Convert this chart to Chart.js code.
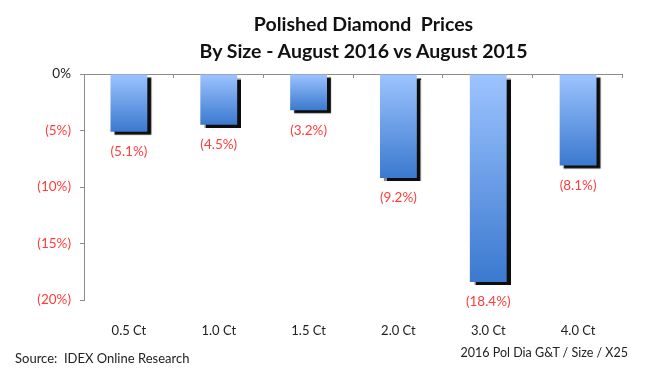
<!DOCTYPE html>
<html>
<head>
<meta charset="utf-8">
<script src="https://cdn.jsdelivr.net/npm/chart.js@4/dist/chart.umd.min.js"></script>
<style>
  body { margin: 0; background: #fff; }
  #wrap { position: relative; width: 645px; height: 372px; overflow: hidden; }
  #myChart { position: absolute; left: 0; top: 0; }
  .title { position: absolute; left: 0; width: 727px; text-align: center; font: bold 19.5px Lato, sans-serif; color: #111; }
  .foot { position: absolute; font: 13px Lato, sans-serif; color: #222; white-space: nowrap; }
</style>
</head>
<body>
<div id="wrap">
  <canvas id="myChart" width="645" height="372"></canvas>
  <div class="title" style="top:12px">Polished Diamond&nbsp; Prices</div>
  <div class="title" style="top:39px">By Size - August 2016 vs August 2015</div>
  <div class="foot" style="left:15px; top:350px">Source:&nbsp; IDEX Online Research</div>
  <div class="foot" style="right:17px; top:345px; font-size:12.5px">2016 Pol Dia G&amp;T / Size / X25</div>
</div>
<script>
const sizes = ['0.5 Ct', '1.0 Ct', '1.5 Ct', '2.0 Ct', '3.0 Ct', '4.0 Ct'];
const priceChange = [-5.1, -4.5, -3.2, -9.2, -18.4, -8.1];

const RED = '#ff3d3d';
const AXIS = '#8c8c8c';

function pct(v) {
    return v === 0 ? '0%' : '(' + Math.abs(v) + '%)';
}

// shadow under bars + red value labels + little ticks on the zero line
const barExtras = {
    id: 'barExtras',
    beforeDatasetsDraw(chart) {
        var c = chart.ctx;
        c.save();
        c.shadowColor = 'rgba(0,0,0,0.95)';
        c.shadowOffsetX = 4;
        c.shadowOffsetY = 3;
        c.shadowBlur = 1;
    },
    afterDatasetsDraw(chart) {
        var c = chart.ctx;
        c.restore();
        c.save();
        c.font = '13.5px Lato, sans-serif';
        c.fillStyle = RED;
        c.textAlign = 'center';
        c.textBaseline = 'middle';
        chart.getDatasetMeta(0).data.forEach((bar, i) => {
            c.fillText(pct(priceChange[i]), bar.x, bar.y + 20);
        });
        var xs = chart.scales.x, y0 = chart.scales.y.getPixelForValue(0);
        c.strokeStyle = AXIS;
        c.lineWidth = 1;
        for (var i = 1; i <= sizes.length; i++) {
            var x = Math.round(xs.left + i * xs.width / sizes.length) - 0.5;
            c.beginPath();
            c.moveTo(x, y0);
            c.lineTo(x, y0 + 4);
            c.stroke();
        }
        c.restore();
    }
};

var ctx = document.getElementById('myChart');
var myChart = new Chart(ctx, {
    type: 'bar',
    data: {
        labels: sizes,
        datasets: [{
            data: priceChange,
            borderWidth: 0,
            backgroundColor: (context) => {
                var chart = context.chart;
                if (!chart.chartArea || context.raw === undefined) return '#6a9ee8';
                var y = chart.scales.y;
                var g = chart.ctx.createLinearGradient(0, y.getPixelForValue(0), 0, y.getPixelForValue(context.raw));
                g.addColorStop(0, '#9dc4ff');
                g.addColorStop(1, '#3b79cf');
                return g;
            },
            categoryPercentage: 1,
            barPercentage: 0.41
        }]
    },
    options: {
        responsive: false,
        animation: false,
        layout: { padding: { left: 0, top: 74, right: 22, bottom: 0 } },
        plugins: {
            legend: { display: false },
            tooltip: { enabled: false }
        },
        scales: {
            x: {
                afterFit: (s) => { s.height = 72; },
                grid: { display: false },
                border: { display: false },
                ticks: {
                    padding: 15,
                    color: '#222',
                    font: { family: 'Lato', size: 13 }
                }
            },
            y: {
                min: -20,
                max: 0,
                afterFit: (s) => { s.width = 84; },
                border: { display: true, color: AXIS },
                grid: {
                    drawOnChartArea: true,
                    color: (c) => c.tick && c.tick.value === 0 ? AXIS : 'rgba(0,0,0,0)',
                    tickColor: AXIS,
                    tickLength: 4
                },
                ticks: {
                    stepSize: 5,
                    padding: 9,
                    callback: (v) => pct(v),
                    color: (c) => c.tick && c.tick.value === 0 ? '#222' : RED,
                    font: { family: 'Lato', size: 13.5 }
                }
            }
        }
    },
    plugins: [barExtras]
});
</script>
</body>
</html>
